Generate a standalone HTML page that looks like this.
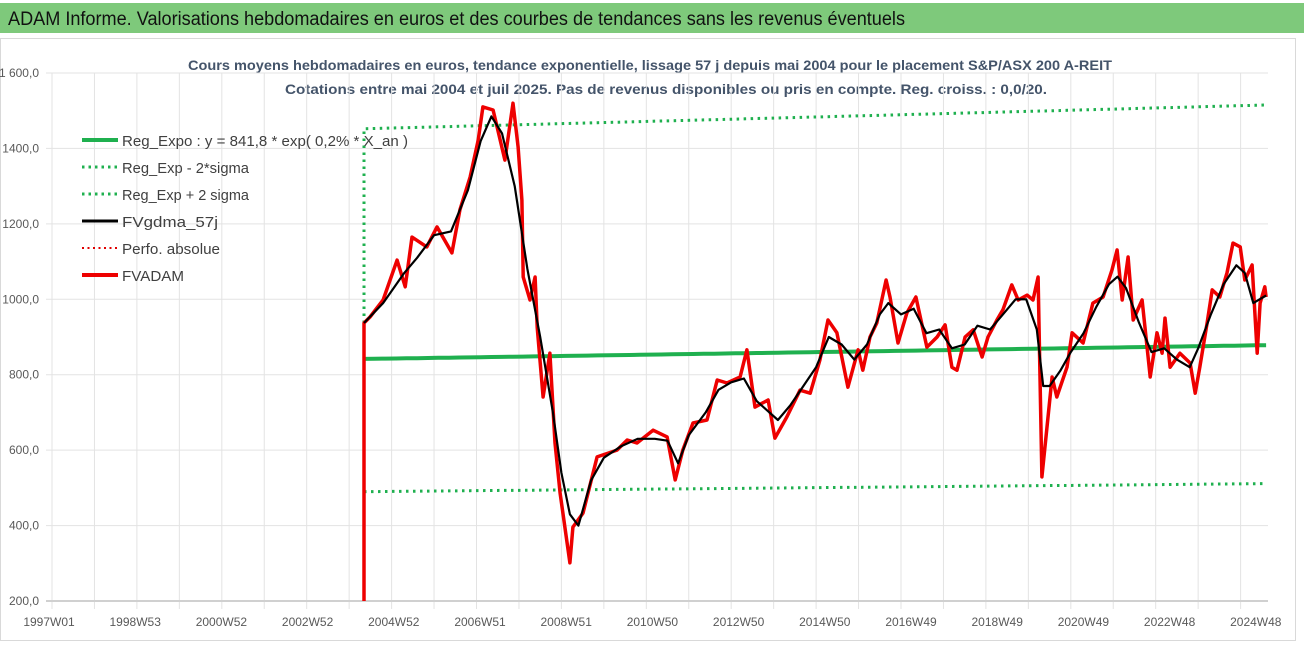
<!DOCTYPE html>
<html><head><meta charset="utf-8"><style>
html,body{margin:0;padding:0;background:#fff;}
svg{display:block;font-family:"Liberation Sans",sans-serif;}
</style></head><body>
<svg id="chart" width="1304" height="652" viewBox="0 0 1304 652">
<rect x="0" y="0" width="1304" height="652" fill="#fff"/>
<rect x="0" y="3" width="1304" height="30" fill="#7ec97b"/>
<text x="8" y="25" font-size="19" fill="#111" textLength="897" lengthAdjust="spacingAndGlyphs">ADAM Informe. Valorisations hebdomadaires en euros et des courbes de tendances sans les revenus éventuels</text>
<rect x="0.5" y="38.5" width="1295" height="602" fill="none" stroke="#d9d9d9"/>
<text x="650" y="70" font-size="14" font-weight="bold" fill="#44546a" text-anchor="middle" textLength="924" lengthAdjust="spacingAndGlyphs">Cours moyens hebdomadaires en euros, tendance exponentielle, lissage 57 j depuis mai 2004 pour le placement S&amp;P/ASX 200 A-REIT</text>
<text x="666" y="94" font-size="14" font-weight="bold" fill="#44546a" text-anchor="middle" textLength="762" lengthAdjust="spacingAndGlyphs">Cotations entre mai 2004 et juil 2025. Pas de revenus disponibles ou pris en compte. Reg. croiss. : 0,0/20.</text>
<g id="grid"></g><g id="axes"></g><g id="series"></g>
<g>
<g><line x1="82" y1="140" x2="118" y2="140" stroke="#1fb04f" stroke-width="4"/><text x="122" y="146" font-size="15" fill="#404040" textLength="286" lengthAdjust="spacingAndGlyphs">Reg_Expo : y = 841,8 * exp( 0,2% * X_an )</text></g>
<g><line x1="82" y1="167" x2="118" y2="167" stroke="#1fb04f" stroke-width="3" stroke-dasharray="2.5,4"/><text x="122" y="173" font-size="15" fill="#404040" textLength="127" lengthAdjust="spacingAndGlyphs">Reg_Exp - 2*sigma</text></g>
<g><line x1="82" y1="194" x2="118" y2="194" stroke="#1fb04f" stroke-width="3" stroke-dasharray="2.5,4"/><text x="122" y="200" font-size="15" fill="#404040" textLength="127" lengthAdjust="spacingAndGlyphs">Reg_Exp + 2 sigma</text></g>
<g><line x1="82" y1="221" x2="118" y2="221" stroke="#000" stroke-width="3"/><text x="122" y="227" font-size="15" fill="#404040" textLength="96" lengthAdjust="spacingAndGlyphs">FVgdma_57j</text></g>
<g><line x1="82" y1="248" x2="118" y2="248" stroke="#e00000" stroke-width="2" stroke-dasharray="2,3.5"/><text x="122" y="254" font-size="15" fill="#404040" textLength="98" lengthAdjust="spacingAndGlyphs">Perfo. absolue</text></g>
<g><line x1="82" y1="275" x2="118" y2="275" stroke="#ee0000" stroke-width="4"/><text x="122" y="281" font-size="15" fill="#404040" textLength="62" lengthAdjust="spacingAndGlyphs">FVADAM</text></g>
</g>
</svg>
<script>
const yTicks=[200,400,600,800,1000,1200,1400,1600];
const yTickLabels=["200,0","400,0","600,0","800,0","1000,0","1200,0","1400,0","1 600,0"];
const xTickLabels=["1997W01","1998W53","2000W52","2002W52","2004W52","2006W51","2008W51","2010W50","2012W50","2014W50","2016W49","2018W49","2020W49","2022W48","2024W48"];
const redT=[2004.35,2004.49,2004.80,2005.13,2005.32,2005.48,2005.83,2006.07,2006.42,2006.61,2006.85,2007.04,2007.15,2007.39,2007.67,2007.86,2007.98,2008.07,2008.10,2008.26,2008.38,2008.43,2008.57,2008.73,2008.85,2008.97,2009.20,2009.27,2009.51,2009.84,2010.31,2010.55,2010.78,2011.16,2011.49,2011.68,2011.86,2012.10,2012.43,2012.67,2012.90,2013.21,2013.37,2013.56,2013.87,2014.03,2014.31,2014.62,2014.86,2015.09,2015.28,2015.49,2015.75,2015.99,2016.10,2016.27,2016.43,2016.65,2016.74,2016.93,2017.14,2017.35,2017.61,2017.85,2018.04,2018.20,2018.32,2018.51,2018.70,2018.91,2019.05,2019.26,2019.40,2019.61,2019.76,2019.97,2020.11,2020.23,2020.32,2020.44,2020.56,2020.67,2020.91,2021.03,2021.29,2021.52,2021.76,2021.97,2022.09,2022.21,2022.35,2022.47,2022.68,2022.87,2023.03,2023.15,2023.22,2023.34,2023.57,2023.81,2023.93,2024.04,2024.21,2024.33,2024.51,2024.68,2024.82,2024.99,2025.10,2025.27,2025.39,2025.46,2025.57,2025.60];
const redV=[937,953,998,1104,1033,1165,1139,1192,1123,1237,1324,1422,1510,1502,1369,1520,1404,1263,1059,998,1059,926,741,857,619,486,301,396,433,582,600,627,619,653,635,521,600,672,680,786,778,794,866,714,733,632,688,759,751,839,945,911,767,866,812,900,937,1051,1006,884,964,1006,873,900,932,820,812,900,919,847,900,945,972,1038,998,1011,998,1059,529,661,794,741,820,911,884,990,1006,1078,1131,998,1112,945,998,794,911,857,950,820,857,831,751,820,937,1025,1006,1070,1149,1139,1051,1091,857,990,1033,1006];
const blackT=[2004.35,2004.8,2005.3,2005.6,2006.0,2006.4,2006.8,2007.1,2007.35,2007.6,2007.9,2008.2,2008.5,2008.8,2009.0,2009.2,2009.4,2009.7,2010.0,2010.4,2010.8,2011.2,2011.5,2011.75,2012.0,2012.4,2012.7,2013.0,2013.3,2013.6,2013.9,2014.1,2014.4,2014.7,2015.0,2015.3,2015.6,2015.9,2016.2,2016.5,2016.7,2017.0,2017.3,2017.6,2017.9,2018.2,2018.5,2018.8,2019.1,2019.4,2019.7,2019.95,2020.2,2020.35,2020.5,2020.75,2021.0,2021.3,2021.6,2021.9,2022.1,2022.3,2022.6,2022.9,2023.2,2023.5,2023.8,2024.0,2024.3,2024.6,2024.9,2025.1,2025.3,2025.6];
const blackV=[937,990,1070,1110,1170,1180,1290,1420,1485,1440,1300,1080,900,700,540,430,400,520,580,610,630,630,625,565,640,700,760,780,790,730,700,680,720,770,820,900,880,840,880,960,990,960,975,910,920,870,880,930,920,960,1000,1000,920,770,770,810,860,910,980,1040,1060,1030,940,860,870,840,820,870,960,1040,1090,1070,990,1010];
const regA=841.8, regG=0.002, sigUp=1.725, sigLow=0.582;
const NS="http://www.w3.org/2000/svg";
const X0=52, PXY=42.45, T0=1997.0, Y0=601, PXV=75.43/200;
function xs(t){return X0+(t-T0)*PXY;}
function ys(v){return Y0-(v-200)*PXV;}
function mk(tag,attrs,parent){const e=document.createElementNS(NS,tag);for(const k in attrs)e.setAttribute(k,attrs[k]);parent.appendChild(e);return e;}
const grid=document.getElementById('grid'),axes=document.getElementById('axes'),ser=document.getElementById('series');
for(let k=0;k<=28;k++){const l=mk('line',{x1:xs(T0+k),x2:xs(T0+k),y1:73,y2:609,stroke:'#e3e3e3','stroke-width':1},grid);

}
yTicks.forEach((v,i)=>{const l=mk('line',{x1:X0-6,x2:1268,y1:ys(v),y2:ys(v),stroke:i==0?'#d0d0d0':'#e3e3e3','stroke-width':i==0?2:1},grid);


const t=mk('text',{x:39,y:ys(v)+4,'font-size':12,fill:'#595959','text-anchor':'end'},axes);t.textContent=yTickLabels[i];

});
xTickLabels.forEach((s,i)=>{const t=mk('text',{x:49+i*86.2,y:626,'font-size':12,fill:'#595959','text-anchor':'middle'},axes);t.textContent=s;

});
const tS=redT[0], tE=redT[redT.length-1];
function regLine(k){let d='';for(let t=tS;t<=tE+0.001;t+=0.25){d+=(d?'L':'M')+xs(t).toFixed(1)+','+ys(regA*Math.exp(regG*(t-tS))*k).toFixed(1);}return d;}
const up=mk('path',{d:'M'+xs(tS)+','+ys(redV[0])+'L'+regLine(sigUp).slice(1),fill:'none',stroke:'#1fb04f','stroke-width':3,'stroke-dasharray':'2.5,4.5'},ser);


const lo=mk('path',{d:regLine(sigLow),fill:'none',stroke:'#1fb04f','stroke-width':3,'stroke-dasharray':'2.5,4.5'},ser);


const rg=mk('path',{d:regLine(1),fill:'none',stroke:'#1fb04f','stroke-width':4},ser);


const rp='M'+xs(tS).toFixed(1)+','+ys(200)+redT.map((t,i)=>'L'+xs(t).toFixed(1)+','+ys(redV[i]).toFixed(1)).join('');
const red=mk('path',{d:rp,fill:'none',stroke:'#ee0000','stroke-width':3.5,'stroke-linejoin':'round'},ser);


const bp=blackT.map((t,i)=>(i?'L':'M')+xs(t).toFixed(1)+','+ys(blackV[i]).toFixed(1)).join('');
const blk=mk('path',{d:bp,fill:'none',stroke:'#000','stroke-width':2.2,'stroke-linejoin':'round'},ser);


</script>
</body></html>
